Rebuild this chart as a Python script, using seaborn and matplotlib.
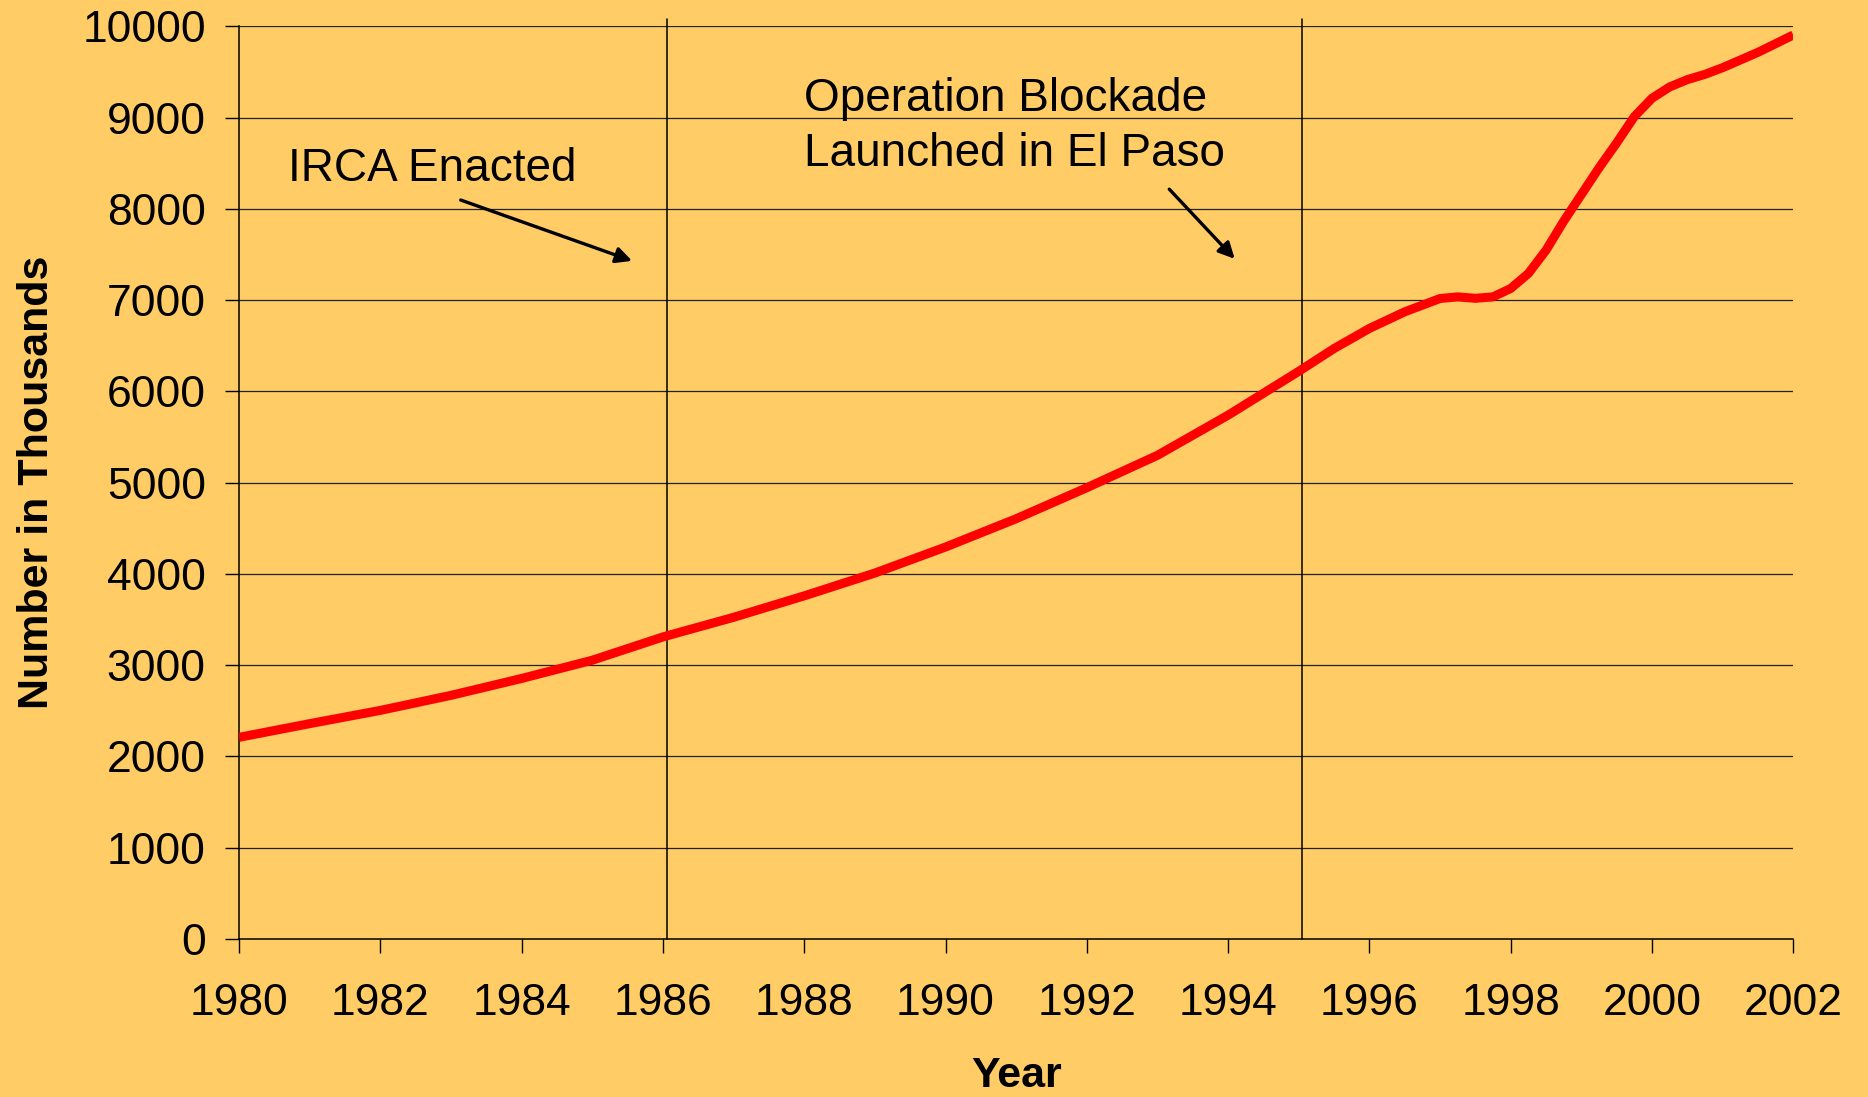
import matplotlib
matplotlib.use("Agg")
import matplotlib.pyplot as plt
import seaborn as sns

# values (thousands); the curvy stretch after
# 1995 was read at finer steps so the drawn line keeps its shape
years = [1980, 1981, 1982, 1983, 1984, 1985, 1986, 1987, 1988, 1989, 1990, 1991,
         1992, 1993, 1994, 1995, 1995.5, 1996, 1996.5, 1997, 1997.25, 1997.5,
         1997.75, 1998, 1998.25, 1998.5, 1998.75, 1999, 1999.25, 1999.5, 1999.75,
         2000, 2000.25, 2000.5, 2000.75, 2001, 2001.5, 2002]
counts = [2210, 2360, 2505, 2670, 2855, 3055, 3310, 3525, 3760, 4010, 4295, 4605,
          4945, 5300, 5740, 6220, 6470, 6690, 6872, 7018, 7036, 7020,
          7036, 7128, 7292, 7547, 7865, 8157, 8449, 8723, 9011,
          9212, 9336, 9416, 9474, 9547, 9715, 9905]
# event markers sit a hair right of the year tick in the original
event_years = [1986.06, 1995.05]
x_ticks = list(range(1980, 2003, 2))
y_ticks = list(range(0, 10001, 1000))

BG = "#FFCC66"

sns.set_theme(style="white")
plt.rcParams["font.family"] = ["Liberation Sans", "DejaVu Sans"]
plt.rcParams.update({"text.color": "black", "axes.labelcolor": "black",
                     "xtick.color": "black", "ytick.color": "black"})

fig = plt.figure(figsize=(18.68, 10.97), dpi=100, facecolor=BG)
ax = fig.add_axes([0.128, 0.144, 0.832, 0.832])
ax.set_facecolor(BG)

# horizontal gridlines
for v in y_ticks[1:]:
    ax.axhline(v, color="#222222", linewidth=0.9, zorder=1)

for yr in event_years:
    ax.axvline(yr, ymin=0, ymax=1.008, color="black", linewidth=1.1, clip_on=False, zorder=2)

sns.lineplot(x=years, y=counts, color="#FF0000", linewidth=6.5, ax=ax, zorder=3)
ax.lines[-1].set_solid_joinstyle("round")
ax.lines[-1].set_solid_capstyle("butt")

ax.set_xlim(1980, 2002)
ax.set_ylim(0, 10000)
ax.set_xticks(x_ticks)
ax.set_yticks(y_ticks)
ax.tick_params(axis="both", labelsize=32, direction="out",
               length=10, width=1, left=True, bottom=True)
ax.tick_params(axis="x", pad=22)
ax.tick_params(axis="y", pad=14)

for side in ["top", "right"]:
    ax.spines[side].set_visible(False)
for side in ["left", "bottom"]:
    ax.spines[side].set_color("black")
    ax.spines[side].set_linewidth(1.1)

ax.set_xlabel("Year", fontsize=31, fontweight="bold", labelpad=23)
ax.set_ylabel("Number in Thousands", fontsize=31, fontweight="bold", labelpad=18)

# annotations
ax.text(1980.69, 8440, "IRCA Enacted", fontsize=33, va="center", ha="left")
ax.text(1988.0, 9200, "Operation Blockade", fontsize=33, va="center", ha="left")
ax.text(1988.0, 8600, "Launched in El Paso", fontsize=33, va="center", ha="left")
ax.annotate("", xy=(1985.6, 7420), xytext=(1983.1, 8107),
            arrowprops=dict(arrowstyle="-|>", color="black", lw=2.4, mutation_scale=24))
ax.annotate("", xy=(1994.12, 7430), xytext=(1993.14, 8238),
            arrowprops=dict(arrowstyle="-|>", color="black", lw=2.4, mutation_scale=24))

fig.savefig("out.png", dpi=100, facecolor=BG)
